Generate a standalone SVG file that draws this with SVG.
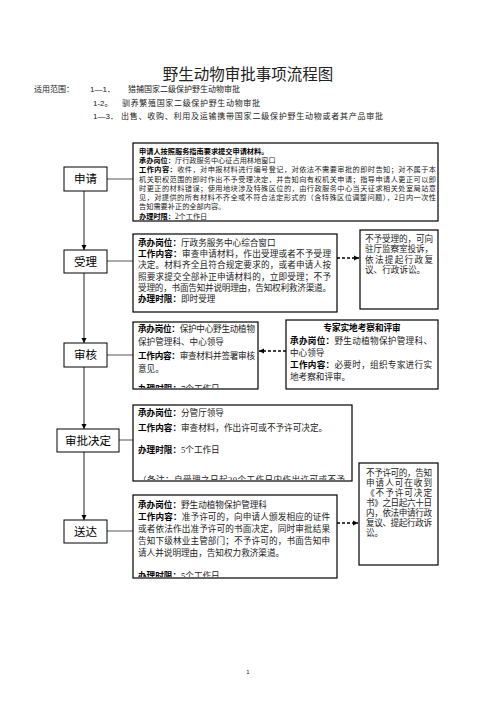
<svg xmlns="http://www.w3.org/2000/svg" width="496" height="702" viewBox="0 0 496 702">
<style>
text{font-family:"Liberation Serif","Noto Sans CJK SC",serif;fill:#222}
.s{font-family:"Liberation Sans","Noto Sans CJK SC",sans-serif}
.b{font-family:"Liberation Sans","Noto Sans CJK SC",sans-serif;font-weight:bold;fill:#000}
.box{fill:#fff;stroke:#000;stroke-width:1.2}
.lb{fill:#fff;stroke:#000;stroke-width:1}
.lt{font-family:"Liberation Sans","Noto Sans CJK SC",sans-serif;font-size:11.5px;fill:#000;text-anchor:middle}
.c{fill:none;stroke:#555;stroke-width:1}
.v{fill:none;stroke:#222;stroke-width:1}
.d{fill:none;stroke:#000;stroke-width:1.3;stroke-dasharray:3,2}
.f7{font-size:7.2px}
.f8{font-size:8.6px}
</style>
<defs>
<marker id="ah" markerWidth="6" markerHeight="6" refX="5" refY="3" orient="auto" markerUnits="userSpaceOnUse"><path d="M0,0.5 L5,3 L0,5.5 Z" fill="#000"/></marker>
<clipPath id="c1"><rect x="133" y="322" width="125" height="66"/></clipPath>
<clipPath id="c2"><rect x="133" y="405" width="219" height="75"/></clipPath>
<clipPath id="c3"><rect x="133" y="495" width="204" height="82"/></clipPath>
</defs>

<g id="title">
<text class="s" x="248" y="80" font-size="15.5" text-anchor="middle">野生动物审批事项流程图</text>
<text class="s" x="34" y="92" font-size="8">适用范围：</text>
<text class="s" x="90" y="92" font-size="8">1—1．</text>
<text class="s" x="128" y="92" font-size="8" textLength="112">猎捕国家二级保护野生动物审批</text>
<text class="s" x="93" y="106" font-size="8">1-2。</text>
<text class="s" x="122" y="106" font-size="8" textLength="138">驯养繁殖国家二级保护野生动物审批</text>
<text class="s" x="93" y="119" font-size="8">1—3．</text>
<text class="s" x="121" y="119" font-size="8" textLength="262">出售、收购、利用及运输携带国家二级保护野生动物或者其产品审批</text>
</g>

<g id="connectors">
<line class="c" x1="107" y1="179" x2="133" y2="179"/>
<line class="c" x1="107" y1="261" x2="133" y2="261"/>
<line class="c" x1="107" y1="355" x2="133" y2="355"/>
<line class="c" x1="119" y1="440" x2="133" y2="440"/>
<line class="c" x1="107" y1="531" x2="133" y2="531"/>
<line class="v" x1="84" y1="191" x2="84" y2="250" marker-end="url(#ah)" stroke="#666"/>
<line class="v" x1="84" y1="273" x2="84" y2="343" marker-end="url(#ah)"/>
<line class="v" x1="84" y1="367" x2="84" y2="429" marker-end="url(#ah)"/>
<line class="v" x1="84" y1="452" x2="84" y2="520" marker-end="url(#ah)" stroke="#666"/>
<line class="d" x1="337" y1="258" x2="359" y2="258" marker-end="url(#ah)"/>
<line class="d" x1="286" y1="351" x2="259" y2="351" marker-end="url(#ah)"/>
<line class="d" x1="337" y1="523" x2="358" y2="523" marker-end="url(#ah)"/>
</g>

<g id="n-shenqing">
<rect class="lb" x="64" y="167" width="43" height="24"/>
<text class="lt" x="85.5" y="183">申请</text>
</g>
<g id="n-shouli">
<rect class="lb" x="64" y="250" width="43" height="23"/>
<text class="lt" x="85.5" y="265.5">受理</text>
</g>
<g id="n-shenhe">
<rect class="lb" x="64" y="343" width="43" height="24"/>
<text class="lt" x="85.5" y="359">审核</text>
</g>
<g id="n-shenpi">
<rect class="lb" x="57" y="429" width="62" height="23"/>
<text class="lt" x="88" y="444.5">审批决定</text>
</g>
<g id="n-songda">
<rect class="lb" x="64" y="520" width="43" height="23"/>
<text class="lt" x="85.5" y="535.5">送达</text>
</g>

<g id="b-shenqing">
<rect class="box" x="133" y="143" width="305" height="78"/>
<text class="b f7" x="139" y="153.6">申请人按照服务指南要求提交申请材料。</text>
<text class="f7" x="139" y="162.9"><tspan class="b">承办岗位：</tspan>厅行政服务中心征占用林地窗口</text>
<text class="f7" x="139" y="172.2" textLength="297"><tspan class="b">工作内容：</tspan>收件，对申报材料进行编号登记，对依法不需要审批的即时告知；对不属于本</text>
<text class="f7" x="139" y="181.5" textLength="297">机关职权范围的即时作出不予受理决定，并告知向有权机关申请；指导申请人更正可以即</text>
<text class="f7" x="139" y="190.8" textLength="297">时更正的材料错误；使用地块涉及特殊区位的，由行政服务中心当天征求相关处室局站意</text>
<text class="f7" x="139" y="200.1" textLength="297">见，对提供的所有材料不齐全或不符合法定形式的（含特殊区位调整问题），2日内一次性</text>
<text class="f7" x="139" y="209.4">告知需要补正的全部内容。</text>
<text class="f7" x="139" y="218.7"><tspan class="b">办理时限：</tspan>2个工作日</text>
</g>

<g id="b-shouli">
<rect class="box" x="133" y="234" width="204" height="78"/>
<text class="f8" x="138" y="246"><tspan class="b">承办岗位：</tspan>厅政务服务中心综合窗口</text>
<text class="f8" x="138" y="257.2" textLength="193"><tspan class="b">工作内容：</tspan>审查申请材料，作出受理或者不予受理</text>
<text class="f8" x="138" y="268.4" textLength="193">决定。材料齐全且符合规定要求的，或者申请人按</text>
<text class="f8" x="138" y="279.6" textLength="193">照要求提交全部补正申请材料的，立即受理；不予</text>
<text class="f8" x="138" y="290.8" textLength="193">受理的，书面告知并说明理由，告知权利救济渠道。</text>
<text class="f8" x="138" y="302"><tspan class="b">办理时限：</tspan>即时受理</text>
</g>

<g id="b-shouli-r">
<rect class="box" x="360" y="230" width="78" height="79"/>
<text class="f8" x="365" y="242" textLength="68">不予受理的，可向</text>
<text class="f8" x="365" y="252.3" textLength="68">驻厅监察室投诉，</text>
<text class="f8" x="365" y="262.6" textLength="68">依法提起行政复</text>
<text class="f8" x="365" y="272.9">议、行政诉讼。</text>
</g>

<g id="b-shenhe">
<rect class="box" x="133" y="322" width="125" height="67"/>
<text class="f8" x="138" y="331.5" textLength="117"><tspan class="b">承办岗位：</tspan>保护中心野生动植物</text>
<text class="f8" x="138" y="345">保护管理科、中心领导</text>
<text class="f8" x="138" y="358.5" textLength="117"><tspan class="b">工作内容：</tspan>审查材料并签署审核</text>
<text class="f8" x="138" y="372">意见。</text>
<text class="f8" x="138" y="392" clip-path="url(#c1)"><tspan class="b">办理时限：</tspan>7个工作日</text>
</g>

<g id="b-zhuanjia">
<rect class="box" x="286" y="320" width="152" height="69"/>
<text class="b f8" x="362" y="331" text-anchor="middle">专家实地考察和评审</text>
<text class="f8" x="290" y="344" textLength="142"><tspan class="b">承办岗位：</tspan>野生动植物保护管理科、</text>
<text class="f8" x="290" y="356">中心领导</text>
<text class="f8" x="290" y="368" textLength="142"><tspan class="b">工作内容：</tspan>必要时，组织专家进行实</text>
<text class="f8" x="290" y="380">地考察和评审。</text>
</g>

<g id="b-shenpi">
<rect class="box" x="133" y="405" width="219" height="76"/>
<text class="f8" x="138" y="416"><tspan class="b">承办岗位：</tspan>分管厅领导</text>
<text class="f8" x="138" y="431"><tspan class="b">工作内容：</tspan>审查材料，作出许可或不予许可决定。</text>
<text class="f8" x="138" y="453"><tspan class="b">办理时限：</tspan>5个工作日</text>
<text class="f8" x="138" y="483" clip-path="url(#c2)" textLength="207">（备注：自受理之日起20个工作日内作出许可或不予</text>
</g>

<g id="b-shenpi-r">
<rect class="box" x="359" y="463" width="79" height="102"/>
<text class="f8" x="366" y="476" textLength="66">不予许可的，告知</text>
<text class="f8" x="366" y="486" textLength="66">申请人可在收到</text>
<text class="f8" x="366" y="496" textLength="66">《不予许可决定</text>
<text class="f8" x="366" y="506" textLength="66">书》之日起六十日</text>
<text class="f8" x="366" y="516" textLength="66">内，依法申请行政</text>
<text class="f8" x="366" y="526" textLength="66">复议、提起行政诉</text>
<text class="f8" x="366" y="536">讼。</text>
</g>

<g id="b-songda">
<rect class="box" x="133" y="495" width="204" height="83"/>
<text class="f8" x="138" y="508"><tspan class="b">承办岗位：</tspan>野生动植物保护管理科</text>
<text class="f8" x="138" y="520" textLength="192"><tspan class="b">工作内容：</tspan>准予许可的，向申请人颁发相应的证件</text>
<text class="f8" x="138" y="532" textLength="192">或者依法作出准予许可的书面决定，同时审批结果</text>
<text class="f8" x="138" y="544" textLength="192">告知下级林业主管部门；不予许可的，书面告知申</text>
<text class="f8" x="138" y="556">请人并说明理由，告知权力救济渠道。</text>
<text class="f8" x="138" y="579" clip-path="url(#c3)"><tspan class="b">办理时限：</tspan>5个工作日</text>
</g>

<g id="page">
<text class="s" x="248" y="674" font-size="6" text-anchor="middle">1</text>
</g>
</svg>
